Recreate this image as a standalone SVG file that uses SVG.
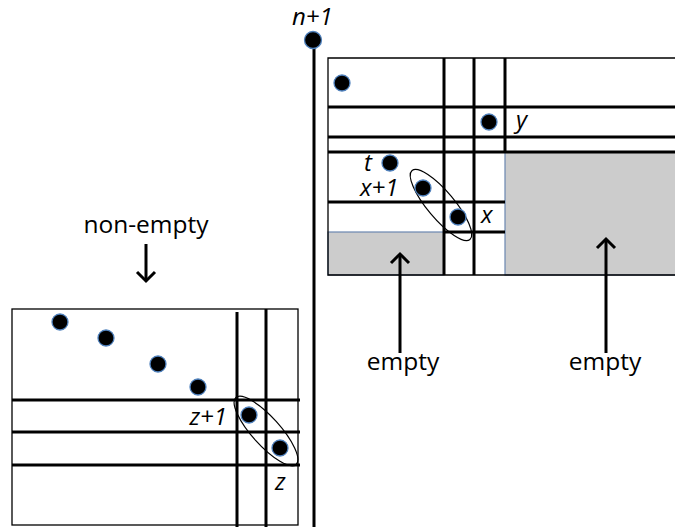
<svg xmlns="http://www.w3.org/2000/svg" width="675" height="529" viewBox="0 0 675 529">
  <style>
    .frame { fill: none; stroke: #000; stroke-width: 1.3; }
    .grid { stroke: #000; stroke-width: 3; fill: none; }
    .shade { fill: #cccccc; stroke: #6a86b0; stroke-width: 1.2; }
    .dot { fill: #000; stroke: #4f81bd; stroke-width: 1.3; }
    .loop { fill: none; stroke: #000; stroke-width: 1.2; }
    .arrow { stroke: #000; stroke-width: 3; fill: none; marker-end: url(#head); }
    .lbl { font-family: "Open Sans", "Liberation Sans", sans-serif; font-size: 24.5px; fill: #000; }
    .var { font-family: "Open Sans", "Liberation Sans", sans-serif; font-size: 24px; font-style: italic; fill: #000; }
  </style>
  <defs>
    <marker id="head" markerUnits="userSpaceOnUse" markerWidth="24" markerHeight="24" refX="12" refY="12" orient="auto" viewBox="0 0 24 24">
      <path d="M3,3 L12,12 L3,21" fill="none" stroke="#000" stroke-width="3"/>
    </marker>
  </defs>

  <!-- left panel: permutation with rows z+1, z -->
  <g id="left-panel">
    <rect class="frame" x="12" y="309" width="286" height="216"/>
    <path class="grid" d="M12,400 H300 M12,432 H300 M12,465 H300 M237,312 V527 M266,309 V527"/>
    <ellipse class="loop" cx="266" cy="431" rx="45" ry="14" transform="rotate(48 266 431)"/>
    <circle class="dot" cx="60" cy="322" r="8"/>
    <circle class="dot" cx="106" cy="338" r="8"/>
    <circle class="dot" cx="158" cy="364" r="8"/>
    <circle class="dot" cx="198" cy="387" r="8"/>
    <circle class="dot" cx="249" cy="415" r="8"/>
    <circle class="dot" cx="280" cy="448" r="8"/>
    <text class="var" x="227" y="425" text-anchor="end">z+1</text>
    <text class="var" x="275" y="490">z</text>
  </g>

  <!-- inserted maximum n+1 with its column -->
  <g id="new-point">
    <path class="grid" d="M314,48 V527"/>
    <circle class="dot" cx="313" cy="40" r="8.5"/>
    <text class="var" x="292" y="25">n+1</text>
  </g>

  <!-- right panel: rows y, t, x+1, x with empty regions -->
  <g id="right-panel">
    <rect class="shade" x="328" y="232" width="116" height="43"/>
    <rect class="shade" x="505" y="152" width="172" height="123"/>
    <path class="frame" d="M676,58 H328 V275 H676"/>
    <path class="grid" d="M328,107 H675 M328,137 H675 M328,152 H675 M328,202 H505 M444,232 H505 M444,58 V275 M474,58 V275 M505,58 V152"/>
    <ellipse class="loop" cx="441" cy="205" rx="45" ry="13.5" transform="rotate(50 441 205)"/>
    <circle class="dot" cx="342" cy="83" r="8"/>
    <circle class="dot" cx="489" cy="122" r="8"/>
    <circle class="dot" cx="390" cy="163" r="8"/>
    <circle class="dot" cx="423" cy="188" r="8"/>
    <circle class="dot" cx="458" cy="217" r="8"/>
    <text class="var" x="516" y="128">y</text>
    <text class="var" x="364" y="171">t</text>
    <text class="var" x="360" y="196">x+1</text>
    <text class="var" x="481" y="223">x</text>
  </g>

  <!-- annotations -->
  <g id="label-nonempty">
    <text class="lbl" x="146" y="233" text-anchor="middle">non-empty</text>
  </g>
  <g id="label-empty-left">
    <text class="lbl" x="403" y="370" text-anchor="middle">empty</text>
  </g>
  <g id="label-empty-right">
    <text class="lbl" x="605" y="370" text-anchor="middle">empty</text>
  </g>

  <g id="connectors">
    <path class="arrow" d="M146,244 V281"/>
    <path class="arrow" d="M400,353 V254"/>
    <path class="arrow" d="M606,353 V239"/>
  </g>
</svg>
